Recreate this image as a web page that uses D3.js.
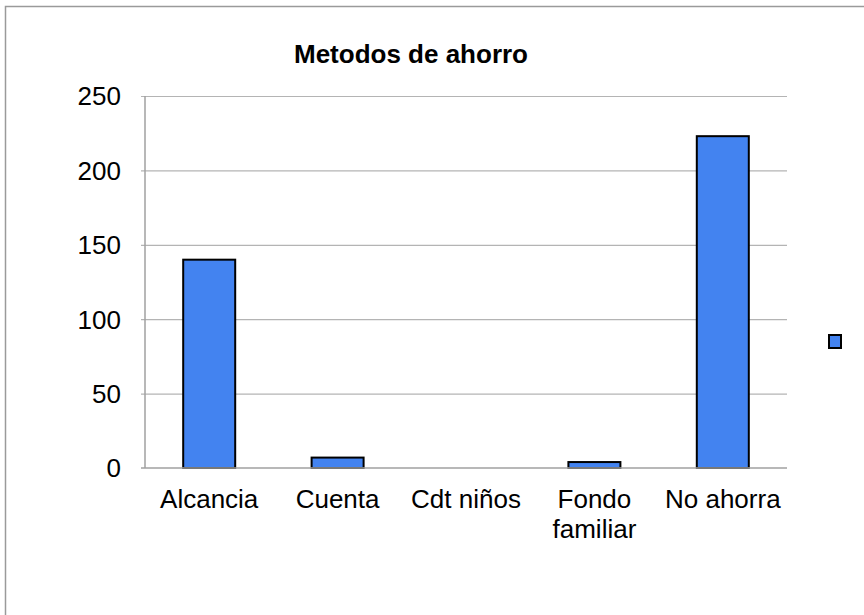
<html>
<head>
  <meta charset="utf-8">
  <script src="https://d3js.org/d3.v7.min.js"></script>
  <style>
    body { margin: 0; background: #fff; }
    text { font-family: Arial, "Liberation Sans", sans-serif; fill: #000; }
    .gridlines line { stroke: #b4b4b4; stroke-width: 1.2; }
    .gridlines .domain { stroke: none; }
  </style>
</head>
<body>
<svg id="chart" width="864" height="615"></svg>
<script>
  // data
  const categories = ["Alcancia", "Cuenta", "Cdt niños", "Fondo familiar", "No ahorra"];
  const values = [140, 7, 0, 4, 223];
  const yTicks = [0, 50, 100, 150, 200, 250];
  const title = "Metodos de ahorro";

  const svg = d3.select("svg#chart");
  const margin = {top: 96, left: 145, right: 77, bottom: 147};
  const width = 864, height = 615;
  const chartWidth = width - margin.left - margin.right;
  const chartHeight = height - margin.top - margin.bottom;

  // outer frame (runs off the right and bottom)
  svg.append("rect")
    .attr("x", 5.5).attr("y", 6.5)
    .attr("width", 1000).attr("height", 1000)
    .attr("fill", "none").attr("stroke", "#9a9a9a").attr("stroke-width", 1.5);

  const xScale = d3.scaleBand().domain(categories).range([0, chartWidth]).paddingInner(0.595).paddingOuter(0.2975);
  const yScale = d3.scaleLinear().domain([0, 250]).range([chartHeight, 0]);

  const chart = svg.append("g").attr("transform", "translate(" + margin.left + "," + margin.top + ")");

  // gridlines
  chart.append("g")
    .attr("class", "gridlines")
    .call(d3.axisLeft(yScale).tickValues(yTicks.slice(1)).tickSize(-chartWidth).tickFormat(""))
    .selectAll("line").attr("x1", -4);

  // bars
  chart.selectAll("rect.bar").data(values)
    .join("rect")
    .attr("class", "bar")
    .attr("x", (d, i) => xScale(categories[i]))
    .attr("y", d => yScale(d))
    .attr("width", xScale.bandwidth())
    .attr("height", d => chartHeight - yScale(d))
    .attr("fill", d => d > 0 ? "#4383f0" : "none")
    .attr("stroke", d => d > 0 ? "#000" : "none")
    .attr("stroke-width", 2);

  // left axis line and baseline
  chart.append("line").attr("x1", 0).attr("x2", 0).attr("y1", 0).attr("y2", chartHeight)
    .attr("stroke", "#a0a0a0").attr("stroke-width", 1.5);
  chart.append("line").attr("x1", -4).attr("x2", chartWidth).attr("y1", chartHeight).attr("y2", chartHeight)
    .attr("stroke", "#a0a0a0").attr("stroke-width", 1.5);

  // y tick labels
  chart.selectAll("text.ytick").data(yTicks)
    .join("text")
    .attr("class", "ytick")
    .attr("x", -24)
    .attr("y", d => yScale(d))
    .attr("dy", "0.36em")
    .attr("text-anchor", "end")
    .style("font-size", "26px")
    .text(d => d);

  // x labels, wrapped on two lines where needed
  chart.selectAll("text.xlabel").data(categories)
    .join("text")
    .attr("class", "xlabel")
    .attr("text-anchor", "middle")
    .style("font-size", "26px")
    .attr("transform", d => "translate(" + (xScale(d) + xScale.bandwidth() / 2) + "," + (chartHeight + 40) + ")")
    .each(function(d) {
      const lines = d === "Fondo familiar" ? ["Fondo", "familiar"] : [d];
      d3.select(this).selectAll("tspan").data(lines)
        .join("tspan")
        .attr("x", 0)
        .attr("y", (l, i) => i * 30)
        .text(l => l);
    });

  // title
  svg.append("text")
    .attr("x", 411).attr("y", 63)
    .attr("text-anchor", "middle")
    .style("font-size", "26px")
    .style("font-weight", "bold")
    .text(title);

  // legend marker (no label)
  svg.append("rect")
    .attr("x", 829).attr("y", 335)
    .attr("width", 12).attr("height", 13)
    .attr("fill", "#4383f0").attr("stroke", "#000").attr("stroke-width", 2);
</script>
</body>
</html>
